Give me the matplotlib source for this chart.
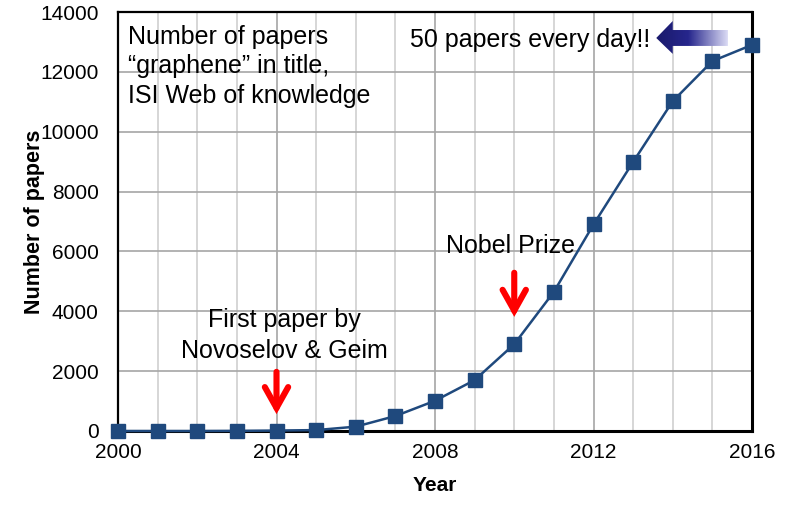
import numpy as np
import matplotlib
matplotlib.use("Agg")
import matplotlib.pyplot as plt
from matplotlib.patches import Polygon, FancyArrowPatch

plt.rcParams['font.family'] = ['Liberation Sans', 'DejaVu Sans']

# data
years = list(range(2000, 2017))
papers = [0, 0, 0, 5, 15, 30, 145, 500, 1010, 1700, 2900, 4650, 6900, 8990, 11020, 12360, 12900]
xtick_years = [2000, 2004, 2008, 2012, 2016]
ytick_vals = [0, 2000, 4000, 6000, 8000, 10000, 12000, 14000]

line_color = '#1f497d'

fig = plt.figure(figsize=(7.86, 5.13), dpi=100)
ax = fig.add_axes([118/786, 1 - 431/513, 634/786, 419/513])

# grid: every year light, every 4 years darker
for y in years:
    c = '#a6a6a6' if y in xtick_years else '#d0d0d0'
    ax.axvline(y, color=c, lw=1.2, zorder=0)
for v in ytick_vals:
    ax.axhline(v, color='#a6a6a6', lw=1.2, zorder=0)

ax.plot(years, papers, color=line_color, lw=1.8, marker='s', markersize=10,
        markerfacecolor=line_color, markeredgecolor=line_color, zorder=3,
        clip_on=False)

ax.set_xlim(2000, 2016)
ax.set_ylim(0, 14000)
ax.set_xticks(xtick_years)
ax.set_yticks(ytick_vals)
ax.tick_params(length=0, labelsize=15)
ax.tick_params(axis='y', pad=14)
ax.tick_params(axis='x', pad=9)
ax.set_xlabel('Year', fontsize=15, fontweight='bold', labelpad=10)
ax.set_ylabel('Number of papers', fontsize=15.5, fontweight='bold', labelpad=-4)
for s in ['left', 'top']:
    ax.spines[s].set_linewidth(1.6)
for s in ['right', 'bottom']:
    ax.spines[s].set_linewidth(2.2)

# text annotations
ax.text(0.016, 0.97, 'Number of papers\n\u201cgraphene\u201d in title,\nISI Web of knowledge',
        transform=ax.transAxes, ha='left', va='top', fontsize=18, linespacing=1.3)
ax.text(0.839, 0.933, '50 papers every day!!', transform=ax.transAxes,
        ha='right', va='center', fontsize=18)
ax.text(2009.9, 6180, 'Nobel Prize', ha='center', va='center', fontsize=18)
ax.text(2004.2, 3200, 'First paper by\nNovoselov & Geim', ha='center', va='center',
        fontsize=18, linespacing=1.35)

# red arrows (open chevron heads)
for x0, ytop, ytip in [(2010, 5380, 3720), (2004, 2070, 470)]:
    arr = FancyArrowPatch((x0, ytop), (x0, ytip),
                          arrowstyle='->,head_length=0.75,head_width=0.42',
                          mutation_scale=20, color='#ff0000', lw=4.4,
                          capstyle='round', joinstyle='miter', zorder=4)
    ax.add_patch(arr)

# gradient arrow pointing left
verts = [(0.849, 0.938), (0.875, 0.9785), (0.875, 0.957), (0.962, 0.957),
         (0.962, 0.919), (0.875, 0.919), (0.875, 0.900)]
poly = Polygon(verts, closed=True, transform=ax.transAxes, facecolor='none',
               edgecolor='none')
ax.add_patch(poly)
grad = np.linspace(0, 1, 256)
cols = np.array([[0.10, 0.10, 0.42], [0.15, 0.15, 0.55], [0.86, 0.86, 0.96]])
pos = np.array([0.0, 0.45, 1.0])
rgb = np.stack([np.interp(grad, pos, cols[:, i]) for i in range(3)], axis=-1)
img = ax.imshow(rgb[np.newaxis, :, :], extent=(0.849, 0.962, 0.900, 0.9785),
                transform=ax.transAxes, aspect='auto', zorder=5)
img.set_clip_path(poly)
ax.set_xlim(2000, 2016)
ax.set_ylim(0, 14000)

fig.savefig('out.png', dpi=100)
